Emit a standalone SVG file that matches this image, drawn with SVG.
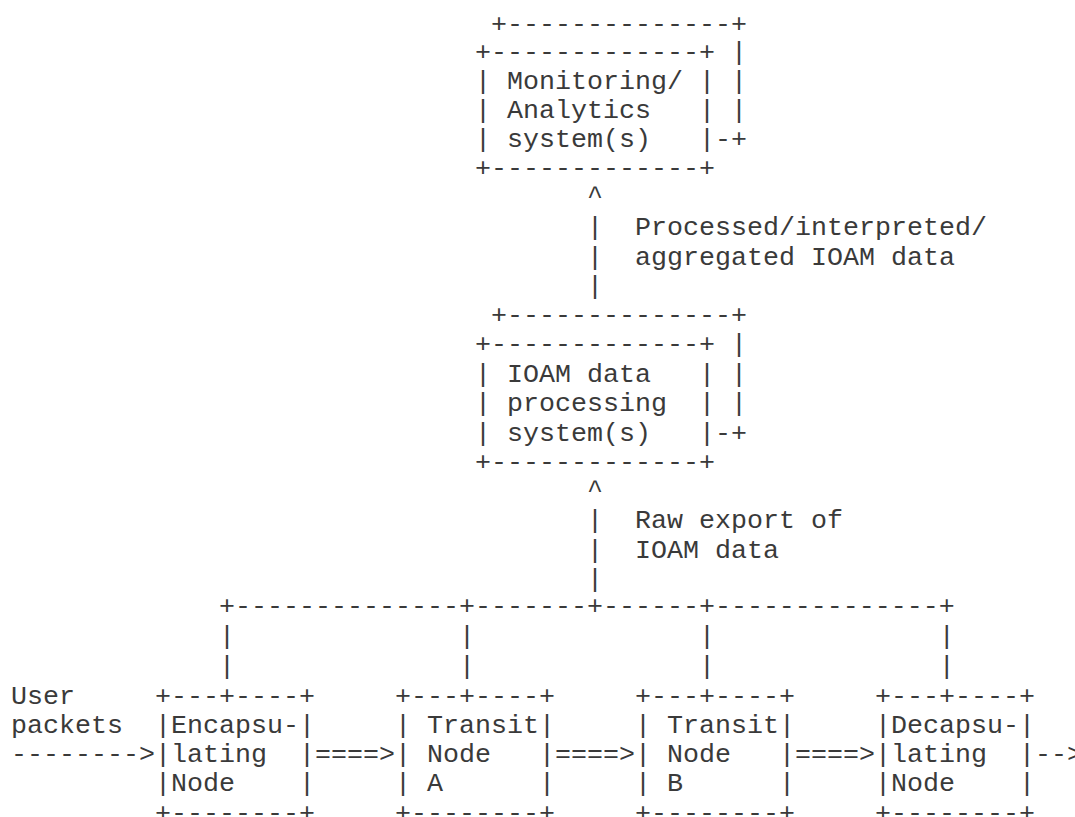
<svg xmlns="http://www.w3.org/2000/svg" width="1075" height="817" viewBox="0 0 1075 817" xml:space="preserve">
  <style>
    text { font-family: "Liberation Mono", "Courier New", monospace; font-size: 26.667px; fill: #3a3a3a; white-space: pre; }
  </style>
  <rect width="1075" height="817" fill="#fff"/>

  <!-- Monitoring / analytics system (stacked boxes) -->
  <g id="monitoring-system">
    <text x="491" y="31.5">+--------------+</text>
    <text x="475" y="60">+-------------+ |</text>
    <text x="475" y="89">| Monitoring/ | |</text>
    <text x="475" y="118">| Analytics   | |</text>
    <text x="475" y="147">| system(s)   |-+</text>
    <text x="475" y="175.5">+-------------+</text>
  </g>

  <!-- IOAM data processing system (stacked boxes) -->
  <g id="processing-system">
    <text x="491" y="323">+--------------+</text>
    <text x="475" y="352">+-------------+ |</text>
    <text x="475" y="381.5">| IOAM data   | |</text>
    <text x="475" y="411">| processing  | |</text>
    <text x="475" y="440.5">| system(s)   |-+</text>
    <text x="475" y="470">+-------------+</text>
  </g>

  <!-- IOAM nodes along the packet path -->
  <g id="encapsulating-node">
    <text x="155" y="704">+---+----+</text>
    <text x="155" y="733">|Encapsu-|</text>
    <text x="155" y="762">|lating  |</text>
    <text x="155" y="791">|Node    |</text>
    <text x="155" y="820.5">+--------+</text>
  </g>
  <g id="transit-node-a">
    <text x="395" y="704">+---+----+</text>
    <text x="395" y="733">| Transit|</text>
    <text x="395" y="762">| Node   |</text>
    <text x="395" y="791">| A      |</text>
    <text x="395" y="820.5">+--------+</text>
  </g>
  <g id="transit-node-b">
    <text x="635" y="704">+---+----+</text>
    <text x="635" y="733">| Transit|</text>
    <text x="635" y="762">| Node   |</text>
    <text x="635" y="791">| B      |</text>
    <text x="635" y="820.5">+--------+</text>
  </g>
  <g id="decapsulating-node">
    <text x="875" y="704">+---+----+</text>
    <text x="875" y="733">|Decapsu-|</text>
    <text x="875" y="762">|lating  |</text>
    <text x="875" y="791">|Node    |</text>
    <text x="875" y="820.5">+--------+</text>
  </g>

  <!-- Export paths and packet flow -->
  <g id="connectors">
    <text x="587" y="204">^</text>
    <text x="587" y="235">|</text>
    <text x="587" y="264.5">|</text>
    <text x="587" y="294">|</text>
    <text x="587" y="497.5">^</text>
    <text x="587" y="528">|</text>
    <text x="587" y="557.5">|</text>
    <text x="587" y="587">|</text>
    <text x="219" y="614">+--------------+-------+------+--------------+</text>
    <text x="219" y="644">|              |              |              |</text>
    <text x="219" y="674">|              |              |              |</text>
    <text x="11" y="762">--------&gt;</text>
    <text x="315" y="762">====&gt;</text>
    <text x="555" y="762">====&gt;</text>
    <text x="795" y="762">====&gt;</text>
    <text x="1035" y="762">--&gt;</text>
  </g>

  <!-- Labels -->
  <g id="labels">
    <text x="635" y="235">Processed/interpreted/</text>
    <text x="635" y="264.5">aggregated IOAM data</text>
    <text x="635" y="528">Raw export of</text>
    <text x="635" y="557.5">IOAM data</text>
    <text x="11" y="704">User</text>
    <text x="11" y="733">packets</text>
  </g>
</svg>
